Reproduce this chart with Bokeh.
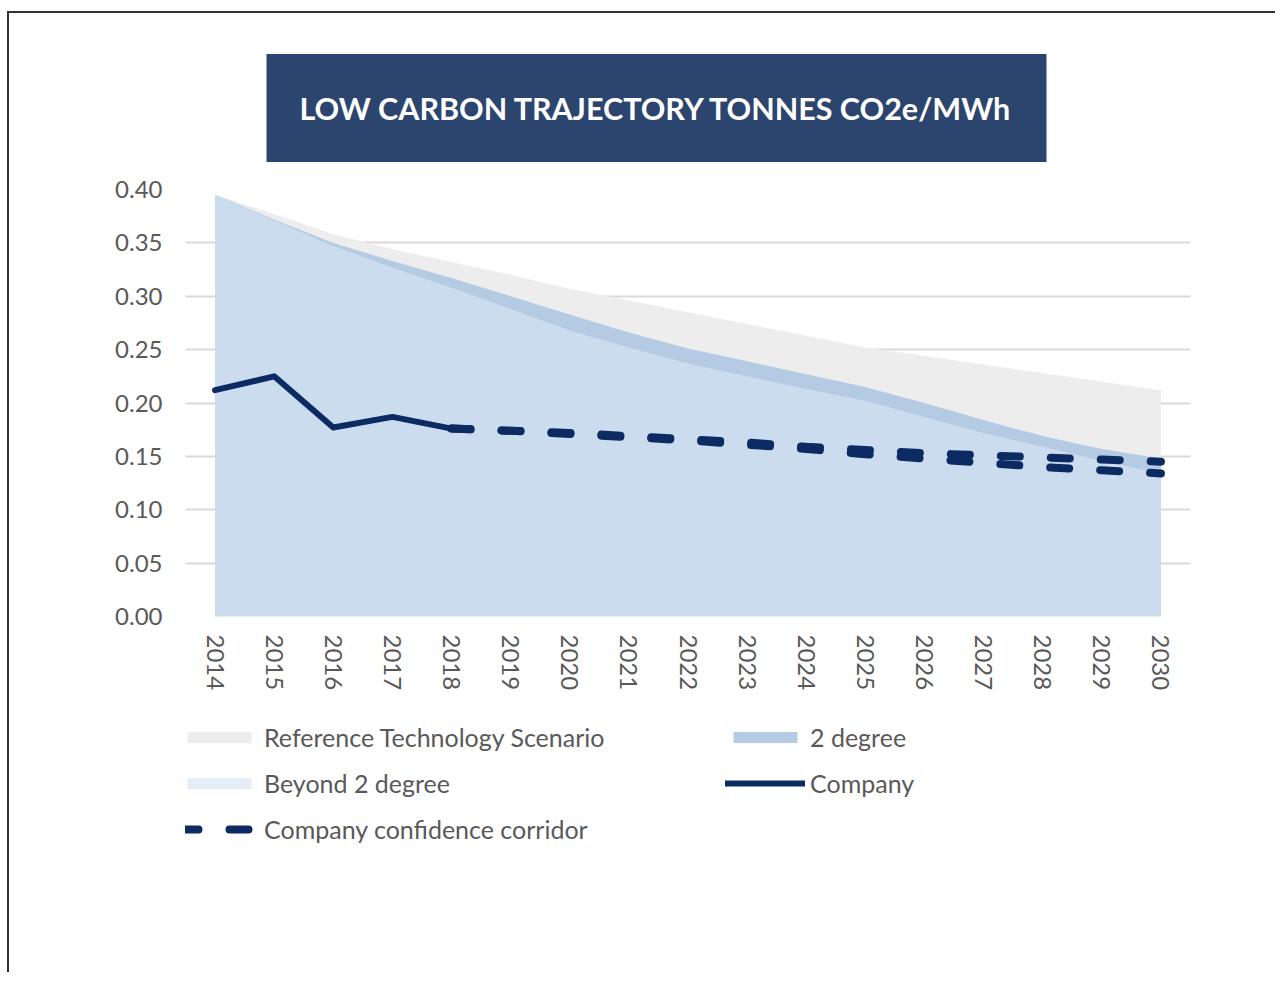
import math
from bokeh.plotting import figure
from bokeh.layouts import column
from bokeh.models import Range1d, FixedTicker, Title, Legend, LegendItem, NumeralTickFormatter
from bokeh.embed import file_html
from bokeh.resources import INLINE

# ---- data ----
years = list(range(2014, 2031))
reference_technology = [0.395, 0.377, 0.358, 0.344, 0.332, 0.320, 0.307, 0.296, 0.285,
                        0.274, 0.263, 0.252, 0.244, 0.236, 0.228, 0.220, 0.212]
two_degree = [0.395, 0.372, 0.350, 0.333, 0.317, 0.300, 0.283, 0.266, 0.251,
              0.239, 0.227, 0.215, 0.200, 0.184, 0.169, 0.157, 0.148]
beyond_two_degree = [0.395, 0.371, 0.347, 0.327, 0.308, 0.288, 0.268, 0.252, 0.237,
                     0.225, 0.213, 0.202, 0.187, 0.172, 0.159, 0.146, 0.134]
company_years = [2014, 2015, 2016, 2017, 2018]
company = [0.212, 0.225, 0.177, 0.187, 0.176]
corridor_years = list(range(2018, 2031))
corridor_upper = [0.176, 0.174, 0.172, 0.169, 0.166, 0.163, 0.159, 0.156, 0.153, 0.151, 0.149, 0.147, 0.145]
corridor_lower = [0.176, 0.174, 0.171, 0.168, 0.165, 0.161, 0.157, 0.152, 0.148, 0.144, 0.140, 0.137, 0.134]
y_ticks = [0.0, 0.05, 0.10, 0.15, 0.20, 0.25, 0.30, 0.35, 0.40]
title_text = "LOW CARBON TRAJECTORY TONNES CO2e/MWh"
legend_labels = ["Reference Technology Scenario", "2 degree", "Beyond 2 degree",
                 "Company", "Company confidence corridor"]

FONT = "Lato"
GREY_TXT = "#595959"
NAVY = "#0D2B63"
C_RTS, C_2D, C_B2D = "#EDEDED", "#B5CBE4", "#D7E5F3"
B2D_ALPHA = 0.65

# ---------------- main chart ----------------
p = figure(width=1266, height=687, output_backend="svg", toolbar_location=None,
           x_range=Range1d(2013.5, 2030.5), y_range=Range1d(0, 0.40),
           min_border_left=176, min_border_right=85, min_border_top=176, min_border_bottom=84)
p.outline_line_color = None
p.background_fill_color = "white"
p.border_fill_color = "white"

zeros = [0] * len(years)
p.varea(x=years, y1=zeros, y2=reference_technology, fill_color=C_RTS)
p.varea(x=years, y1=zeros, y2=two_degree, fill_color=C_2D)
p.varea(x=years, y1=zeros, y2=beyond_two_degree, fill_color=C_B2D, fill_alpha=B2D_ALPHA)

p.line(x=company_years, y=company, line_color=NAVY, line_width=6,
       line_join="round", line_cap="round")
p.line(x=corridor_years, y=corridor_upper, line_color=NAVY, line_width=8,
       line_dash="19 31", line_cap="round")
p.line(x=corridor_years, y=corridor_lower, line_color=NAVY, line_width=8,
       line_dash="19 31", line_cap="round")

p.xaxis.ticker = FixedTicker(ticks=years)
p.xaxis.major_label_orientation = -math.pi / 2
p.xaxis.axis_line_color = None
p.xaxis.major_tick_line_color = None
p.xaxis.minor_tick_line_color = None
p.xaxis.major_label_standoff = 12
p.xaxis.major_label_text_font = FONT
p.xaxis.major_label_text_font_size = "24px"
p.xaxis.major_label_text_color = GREY_TXT

p.yaxis.ticker = FixedTicker(ticks=y_ticks)
p.yaxis.formatter = NumeralTickFormatter(format="0.00")
p.yaxis.axis_line_color = None
p.yaxis.major_tick_line_color = None
p.yaxis.minor_tick_line_color = None
p.yaxis.major_label_standoff = 17
p.yaxis.major_label_text_font = FONT
p.yaxis.major_label_text_font_size = "24px"
p.yaxis.major_label_text_color = GREY_TXT

p.xgrid.grid_line_color = None
p.ygrid.ticker = FixedTicker(ticks=y_ticks)
p.ygrid.grid_line_color = "#D9D9D9"
p.ygrid.grid_line_width = 2

title = Title(text=title_text, align="left", offset=81, standoff=55,
              text_color="white", text_font=FONT, text_font_style="bold", text_font_size="30.5px",
              background_fill_color="#2C456F",
              padding=dict(left=33, right=33, top=36, bottom=36))
p.add_layout(title, "above")

# ---------------- legend strip ----------------
lf = figure(width=1266, height=272, output_backend="svg", toolbar_location=None,
            x_range=Range1d(0, 1266), y_range=Range1d(0, 272),
            x_axis_location=None, y_axis_location=None, min_border=0)
lf.outline_line_color = None
lf.grid.grid_line_color = None
lf.background_fill_color = "white"
lf.border_fill_color = "white"

# legend-only renderers: a single NaN point each, so nothing is drawn;
# they only supply the swatch styles for the legend
nan = [float("nan")]
l_rts = lf.varea(x=nan, y1=nan, y2=nan, fill_color=C_RTS)
l_2d = lf.varea(x=nan, y1=nan, y2=nan, fill_color=C_2D)
l_b2d = lf.varea(x=nan, y1=nan, y2=nan, fill_color=C_B2D, fill_alpha=B2D_ALPHA)
l_co = lf.line(x=nan, y=nan, line_color=NAVY, line_width=6, line_cap="round")
l_cc = lf.line(x=nan, y=nan, line_color=NAVY, line_width=8, line_dash="19 31", line_cap="round")

legend = Legend(items=[
    LegendItem(label=legend_labels[0], renderers=[l_rts]),
    LegendItem(label=legend_labels[1], renderers=[l_2d]),
    LegendItem(label=legend_labels[2], renderers=[l_b2d]),
    LegendItem(label=legend_labels[3], renderers=[l_co]),
    LegendItem(label=legend_labels[4], renderers=[l_cc]),
], orientation="horizontal", ncols=2, location=(-6, 128),
    glyph_width=80, glyph_height=14, label_height=25, label_width=445,
    label_standoff=5, spacing=16, padding=0, margin=0,
    label_text_font=FONT, label_text_font_size="25px", label_text_color=GREY_TXT,
    background_fill_alpha=0, border_line_color=None)
lf.add_layout(legend, "center")

layout = column(p, lf, margin=(11, 0, 0, 7), spacing=0,
                styles={"border-top": "2px solid #333333", "border-left": "2px solid #333333"})

open("out.html", "w").write(file_html(layout, INLINE))
